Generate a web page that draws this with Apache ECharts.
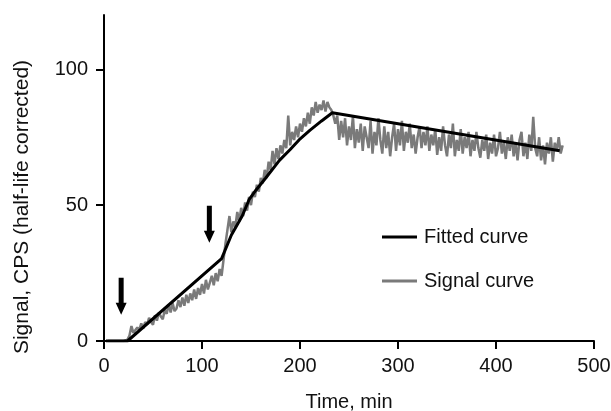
<!DOCTYPE html>
<html>
<head>
<meta charset="utf-8">
<script src="https://cdn.jsdelivr.net/npm/echarts@6/dist/echarts.min.js"></script>
<style>
  html, body { margin: 0; padding: 0; background: #fff; }
  #chart { width: 611px; height: 411px; }
</style>
</head>
<body>
<div id="chart"></div>
<script>
// fitted curve (time, signal)
const fittedTime = [2, 24, 120, 130, 141, 148, 155, 165, 179, 190, 199, 210, 222, 233, 465];
const fittedValue = [0, 0, 30.3, 39, 46, 52, 55.5, 60, 66.5, 70.5, 74, 77.5, 81, 84, 70];

// signal curve, sampled every 2 min starting at t = 4
const signalStart = 4;
const signalStep = 2;
const signalValue = [
  0, 0, 0, 0, 0, 0, 0, 0, 0, 0.2,
  0.5, 2, 5.5, 3, 2.5, 5, 4, 6.5, 4.5, 7,
  6, 8.5, 7, 6, 9.5, 7.5, 10.5, 9, 8, 11.5,
  10, 13.5, 10.5, 14, 11, 12, 15, 12.5, 16, 13,
  17, 14, 17.5, 15, 19, 15.5, 19.5, 17, 21, 17.5,
  22.5, 19, 21.5, 24, 20.5, 25, 22, 26.5, 24, 30,
  36, 41, 46, 40, 44, 42, 47.5, 44, 49, 46,
  51, 48, 53, 50, 55, 53, 57.5, 55, 60, 58,
  63, 60, 66, 63, 70, 65, 71, 67, 72, 69,
  74, 71, 83, 72, 77, 74, 79, 75, 80, 77,
  82, 79, 84, 80, 86, 83, 88, 84, 87, 85,
  88.5, 84.5, 88, 86, 85, 83,
  80, 83, 74, 81, 75, 82, 72, 79, 74, 83,
  71, 78, 73, 80, 70, 79, 75, 71, 81, 69,
  77, 72, 82, 74, 69, 79, 71, 77, 68, 75,
  80, 70, 78, 72, 81, 70, 77, 73, 80, 71,
  76, 69, 75, 79, 71, 77, 72, 79, 70, 76,
  72, 78, 68.5, 75, 70, 79, 72, 68, 76, 71,
  80, 68, 74, 70, 78, 69, 75, 71, 77, 68,
  74, 70, 77, 71, 67.5, 74, 70, 76, 67, 73,
  69, 76, 68, 71, 77, 69, 73, 67, 75, 70,
  76, 68, 73, 66.5, 74, 77, 68, 73, 67, 76,
  70, 82.5, 71, 68, 75, 66.5, 72, 65, 73, 69,
  75, 66, 73, 70, 75, 69, 72
];

// arrow markers (time, centre value)
const arrowTime = [17.5, 107.5];
const arrowValue = [16.5, 43];

const xTicks = { min: 0, max: 500, interval: 100 };
const yTicks = { min: 0, max: 120, interval: 50 };
const yTickValues = [0, 50, 100];

const fittedData = fittedTime.map((t, i) => [t, fittedValue[i]]);
const signalData = signalValue.map((v, i) => [signalStart + i * signalStep, v]);
const arrowData = arrowTime.map((t, i) => [t, arrowValue[i]]);

const font = "Liberation Sans, Arial, Helvetica, sans-serif";
const txt = "#111";

const chart = echarts.init(document.getElementById("chart"));
const option = {
  animation: false,
  backgroundColor: "#fff",
  grid: { left: 104, right: 17, top: 15, bottom: 70, outerBoundsMode: "none" },
  legend: {
    orient: "vertical",
    left: 377,
    top: 222,
    itemWidth: 35,
    itemHeight: 3,
    itemGap: 24,
    icon: "rect",
    textStyle: { fontFamily: font, fontSize: 20, color: txt, padding: [0, 0, 0, 2] },
    data: ["Fitted curve", "Signal curve"]
  },
  xAxis: {
    type: "value",
    min: xTicks.min,
    max: xTicks.max,
    interval: xTicks.interval,
    name: "Time, min",
    nameLocation: "middle",
    nameGap: 51,
    nameTextStyle: { fontFamily: font, fontSize: 20, color: txt },
    axisLine: { lineStyle: { color: "#000", width: 2 } },
    axisTick: { length: 8, lineStyle: { color: "#000", width: 2 } },
    axisLabel: { fontFamily: font, fontSize: 20, color: txt, margin: 15 },
    splitLine: { show: false }
  },
  yAxis: {
    type: "value",
    min: yTicks.min,
    max: yTicks.max,
    interval: yTicks.interval,
    axisLine: { show: true, lineStyle: { color: "#000", width: 2 } },
    axisTick: { show: true, length: 8, customValues: yTickValues, lineStyle: { color: "#000", width: 2 } },
    axisLabel: { fontFamily: font, fontSize: 20, color: txt, margin: 16, customValues: yTickValues },
    splitLine: { show: false }
  },
  graphic: [
    {
      type: "text",
      x: 22,
      y: 207,
      rotation: Math.PI / 2,
      style: {
        text: "Signal, CPS (half-life corrected)",
        fontFamily: font,
        fontSize: 21,
        fill: txt,
        align: "center",
        verticalAlign: "middle"
      }
    }
  ],
  series: [
    {
      name: "Signal curve",
      type: "line",
      data: signalData,
      showSymbol: false,
      lineStyle: { color: "#7a7a7a", width: 2.5 },
      itemStyle: { color: "#7a7a7a" },
      z: 2
    },
    {
      name: "Fitted curve",
      type: "line",
      data: fittedData,
      showSymbol: false,
      lineStyle: { color: "#000", width: 3 },
      itemStyle: { color: "#000" },
      z: 3
    },
    {
      name: "arrows",
      type: "scatter",
      data: arrowData,
      symbol: "path://M3,0 L8,0 L8,25 L11,25 L5.5,37 L0,25 L3,25 Z",
      symbolSize: [11, 37],
      symbolKeepAspect: false,
      itemStyle: { color: "#000", opacity: 1 },
      silent: true,
      z: 4
    }
  ]
};
chart.setOption(option);
</script>
</body>
</html>
